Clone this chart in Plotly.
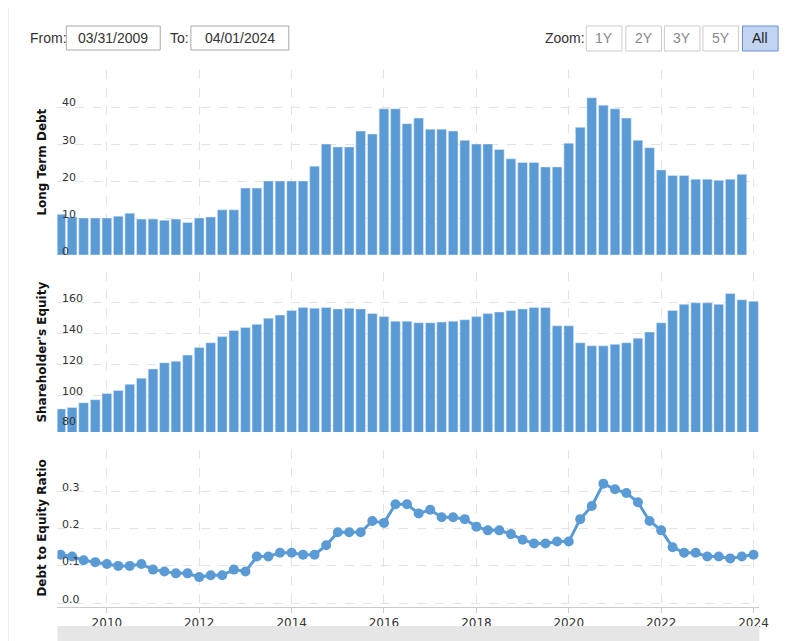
import pandas as pd
import plotly.graph_objects as go

# the page body adds an 8px margin, so the figure is drawn 8px smaller and shifted
OFF = 8
W, H = 796 - OFF, 641 - OFF

quarters = pd.date_range("2009-01-01", periods=61, freq="QS")

long_term_debt = [11, 10.3, 10, 10, 10, 10.5, 11.3, 9.7, 9.7, 9.4, 9.7, 8.8, 10, 10.3, 12.2,
                  12.2, 18.1, 18.1, 20, 20, 20, 20, 24, 30, 29.2, 29.2, 33.5, 32.7, 39.5,
                  39.5, 35.5, 37, 34, 34, 33.5, 31, 30, 30, 28.5, 26, 25, 25, 23.8, 23.8,
                  30.2, 34.5, 42.5, 40.5, 39.5, 37, 31, 29, 23, 21.5, 21.5, 20.5, 20.5,
                  20.2, 20.5, 21.8]

equity = [91, 92, 95, 97, 101, 103, 107, 111, 117, 121, 122, 126, 131, 134, 138, 142, 144,
          146, 150, 152, 155, 157, 156.5, 157, 156, 156.5, 156, 153, 151, 148, 148, 147,
          147, 147.5, 148, 149, 151, 153, 154, 155, 156, 157, 157, 145, 145, 134, 132, 132,
          133, 134, 137, 141, 147, 155, 159, 160, 160, 159, 166, 162, 161]

de_ratio = [0.13, 0.125, 0.115, 0.11, 0.105, 0.10, 0.10, 0.105, 0.09, 0.085, 0.08, 0.08,
            0.07, 0.075, 0.075, 0.09, 0.085, 0.125, 0.125, 0.135, 0.135, 0.13, 0.13, 0.155,
            0.19, 0.19, 0.19, 0.22, 0.215, 0.265, 0.265, 0.24, 0.25, 0.23, 0.23, 0.225,
            0.205, 0.195, 0.195, 0.185, 0.17, 0.16, 0.16, 0.165, 0.165, 0.225, 0.26, 0.32,
            0.305, 0.295, 0.27, 0.22, 0.195, 0.15, 0.135, 0.135, 0.125, 0.125, 0.12, 0.125,
            0.13]

debt_ticks = [0, 10, 20, 30, 40]
equity_ticks = [80, 100, 120, 140, 160]
ratio_ticks = [0, 0.1, 0.2, 0.3]
ratio_tick_text = ["0.0", "0.1", "0.2", "0.3"]

BLUE = "#5b9bd5"
FONT = "DejaVu Sans"
NARROW = "Liberation Sans Narrow, Liberation Sans"


def px(x):
    return (x - OFF) / W


def py(y):
    return 1 - (y - OFF) / H


fig = go.Figure()
fig.add_trace(go.Bar(x=quarters, y=long_term_debt, marker_color=BLUE, xaxis="x", yaxis="y"))
fig.add_trace(go.Bar(x=quarters, y=equity, marker_color=BLUE, xaxis="x2", yaxis="y2"))
fig.add_trace(go.Scatter(x=quarters, y=de_ratio, mode="lines+markers", xaxis="x3", yaxis="y3",
                         line=dict(color=BLUE, width=3), marker=dict(color=BLUE, size=10)))

xr = ["2008-12-06", "2024-02-16"]
xcommon = dict(range=xr, domain=[px(58), px(768)], showgrid=True, gridcolor="#e3e3e3",
               griddash="dash", dtick="M24", tick0="2010-01-01", tickformat="%Y",
               zeroline=False, tickfont=dict(family=FONT, size=12, color="#333"))
ycommon = dict(showgrid=True, gridcolor="#e3e3e3", griddash="dash", zeroline=False,
               showticklabels=False)

fig.update_layout(
    width=W, height=H, margin=dict(l=0, r=0, t=0, b=0),
    paper_bgcolor="white", plot_bgcolor="white", showlegend=False, bargap=0.15,
    xaxis=dict(xcommon, anchor="y", showticklabels=False),
    xaxis2=dict(xcommon, anchor="y2", showticklabels=False),
    xaxis3=dict(xcommon, anchor="y3", showline=True, linecolor="#ccc", ticks="outside",
                ticklen=5, tickcolor="#ccc"),
    yaxis=dict(ycommon, domain=[py(255), py(70)], range=[0, 50], tickvals=debt_ticks,
               anchor="x"),
    yaxis2=dict(ycommon, domain=[py(432), py(272)], range=[76, 180],
                tickvals=equity_ticks, anchor="x2"),
    yaxis3=dict(ycommon, domain=[py(607), py(450)], range=[-0.01, 0.41],
                tickvals=ratio_ticks, anchor="x3"),
)

# y tick labels drawn inside the plot, just above their grid lines
for yref, vals, texts in [("y", debt_ticks, [str(v) for v in debt_ticks]),
                          ("y2", equity_ticks, [str(v) for v in equity_ticks]),
                          ("y3", ratio_ticks, ratio_tick_text)]:
    for v, t in zip(vals, texts):
        fig.add_annotation(text=t, x=px(61), y=v, xref="paper", yref=yref, xanchor="left",
                           yanchor="middle", yshift=4, showarrow=False,
                           font=dict(family=FONT, size=11, color="#333"))

# axis titles
for label, ymid in [("Long Term Debt", 162), ("Shareholder's Equity", 352),
                    ("Debt to Equity Ratio", 528)]:
    fig.add_annotation(text="<b>" + label + "</b>", x=px(42), y=py(ymid), xref="paper",
                       yref="paper", xanchor="center", yanchor="middle", textangle=-90,
                       showarrow=False, font=dict(family=FONT, size=12, color="#111"))

# page frame and navigator strip
fig.add_shape(type="line", x0=px(8), x1=px(8), y0=0, y1=py(6), xref="paper", yref="paper",
              line=dict(color="#ddd", width=1))
fig.add_shape(type="line", x0=px(8), x1=1, y0=py(6), y1=py(6), xref="paper", yref="paper",
              line=dict(color="#ddd", width=1))
fig.add_shape(type="rect", x0=px(58), x1=px(768), y0=0, y1=py(626), xref="paper",
              yref="paper", fillcolor="#e6e6e6", line=dict(width=0))


def label(text, x, y, anchor="left", color="#333"):
    fig.add_annotation(text=text, x=px(x), y=py(y), xref="paper", yref="paper",
                       xanchor=anchor, yanchor="middle", showarrow=False,
                       font=dict(family=NARROW, size=14, color=color))


# header controls
label("From:", 28, 38)
label("To:", 170, 38)
label("Zoom:", 549, 38)
for x0, x1, txt in [(67, 162, "03/31/2009"), (193, 292, "04/01/2024")]:
    fig.add_shape(type="rect", x0=px(x0), x1=px(x1), y0=py(50), y1=py(26), xref="paper",
                  yref="paper", line=dict(color="#aaa", width=1), fillcolor="white")
    label(txt, (x0 + x1) / 2, 38, anchor="center")
for x0, txt in [(593, "1Y"), (633, "2Y"), (672, "3Y"), (711, "5Y"), (751, "All")]:
    active = txt == "All"
    fig.add_shape(type="rect", x0=px(x0), x1=px(x0 + 36), y0=py(51), y1=py(26), xref="paper",
                  yref="paper", fillcolor="#c2d4f0" if active else "white",
                  line=dict(color="#6b8fd6" if active else "#ccc", width=1))
    label(txt, x0 + 18, 38.5, anchor="center", color="#222" if active else "#888")

fig.write_html("out.html")
